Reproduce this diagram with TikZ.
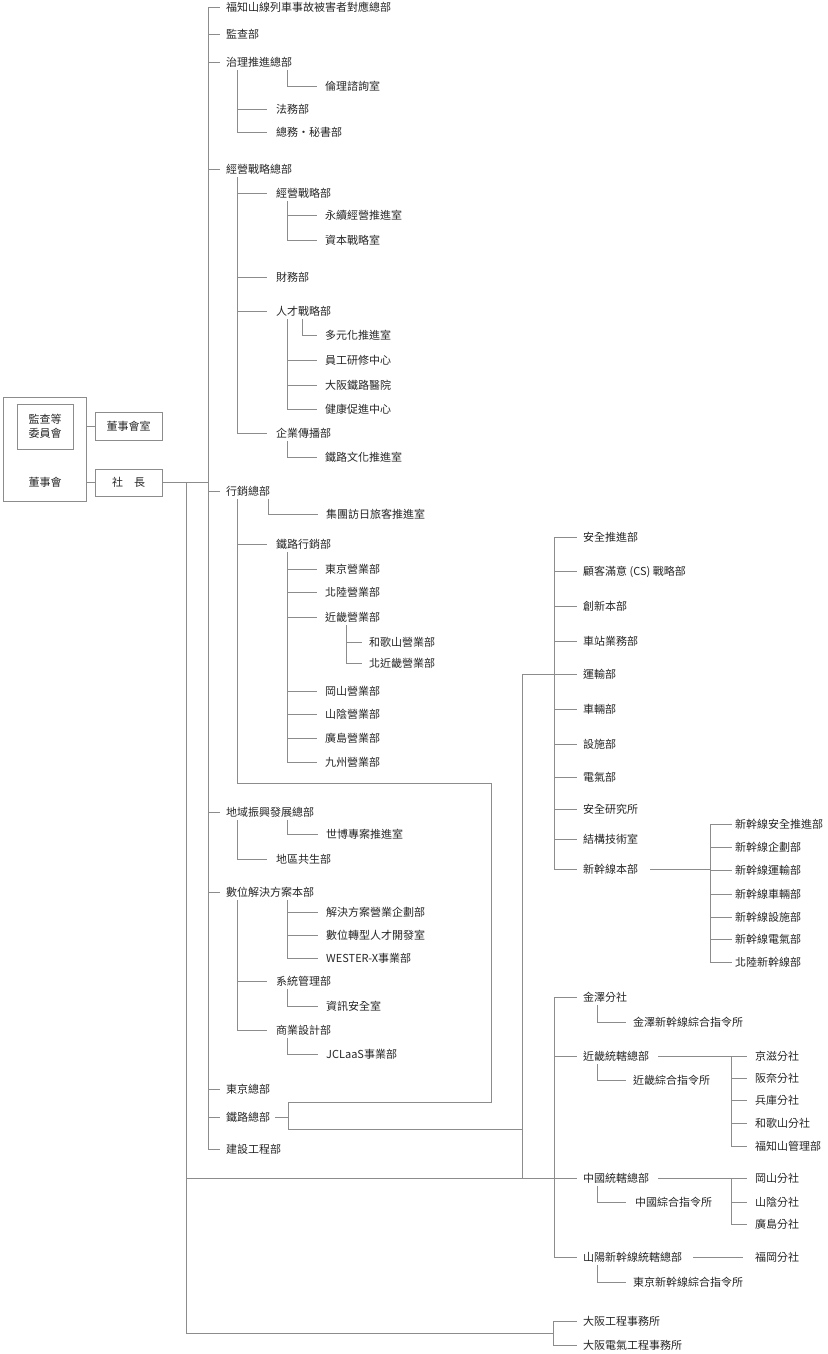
\documentclass[tikz,border=0pt]{standalone}
\usepackage{fontspec}
\newfontfamily\cjk{Noto Sans CJK TC}
\definecolor{lc}{HTML}{8C8C8C}
\definecolor{tc}{HTML}{262626}
\newcommand\brn[4]{\draw[ln] ([xshift=#2pt,yshift=-3pt]#1.south west) |- ([xshift=-#4pt]#3.west);}
\begin{document}
\begin{tikzpicture}[x=1pt,y=-1pt,
 t/.style={anchor=west,inner sep=0pt,text height=9.5pt,text depth=1pt,font=\cjk\fontsize{11}{13}\selectfont,text=tc},
 ln/.style={draw=lc,line width=0.8pt},
 box/.style={draw=lc,line width=0.8pt,inner sep=0pt,font=\cjk\fontsize{11}{14}\selectfont,text=tc,align=center}]
\useasboundingbox (0,0) rectangle (827,1354);
% ---- left boxes
\node[box,minimum width=83pt,minimum height=104pt] (board) at (44.5,449) {};
\node[box,minimum width=56pt,minimum height=45pt] (audit) at (45,426.5) {監查等\\委員會};
\node[t,anchor=center] (boardt) at (45,482) {董事會};
\node[box,minimum width=67pt,minimum height=28pt] (room) at (128.5,426) {董事會室};
\node[box,minimum width=67pt,minimum height=27pt] (pres) at (128.5,482.5) {社　長};
\draw[ln] (board.east |- room.west) -- (room.west);
\draw[ln] (board.east |- pres.west) -- (pres.west);
% ---- coordinates
\coordinate (sp) at (208,0);
\coordinate (c186) at (186,0);
\coordinate (c522) at (522,0);
\coordinate (rs) at (554,0);
\coordinate (ss) at (710,0);
\coordinate (kx) at (731,0);
\coordinate (ob) at (553,1333);
\coordinate (k1) at (288,1102);
\coordinate (k2) at (288,1129);
\coordinate (k3) at (491,783);
% ---- main column
\node[t] (m1) at (226,7) {福知山線列車事故被害者對應總部};
\node[t] (m2) at (226,34) {監查部};
\node[t] (m3) at (226,62) {治理推進總部};
\node[t] (m4) at (226,169) {經營戰略總部};
\node[t] (m5) at (226,491) {行銷總部};
\node[t] (m6) at (226,812) {地域振興發展總部};
\node[t] (m7) at (226,892) {數位解決方案本部};
\node[t] (m8) at (226,1089) {東京總部};
\node[t] (m9) at (226,1117) {鐵路總部};
\node[t] (m10) at (226,1149) {建設工程部};
\draw[ln] (sp |- m1.west) -- (sp |- m10.west);
\foreach \n in {m1,m2,m3,m4,m5,m6,m7,m8,m9,m10} {\draw[ln] (sp |- \n.west) -- ([xshift=-6pt]\n.west);}
\draw[ln] (pres.east) -- (sp |- pres.east);
% ---- under 治理推進總部
\node[t] (a1) at (325,86) {倫理諮詢室};
\node[t] (a2) at (276,109) {法務部};
\node[t] (a3) at (276,132) {總務・秘書部};
\brn{m3}{61}{a1}{8}
\brn{m3}{11}{a2}{9}
\brn{m3}{11}{a3}{9}
% ---- under 經營戰略總部
\node[t] (b1) at (276,193) {經營戰略部};
\node[t] (b11) at (325,215) {永續經營推進室};
\node[t] (b12) at (325,240) {資本戰略室};
\node[t] (b2) at (276,277) {財務部};
\node[t] (b3) at (276,311) {人才戰略部};
\node[t] (b31) at (325,335) {多元化推進室};
\node[t] (b32) at (325,360) {員工研修中心};
\node[t] (b33) at (325,385) {大阪鐵路醫院};
\node[t] (b34) at (325,409) {健康促進中心};
\node[t] (b4) at (276,433) {企業傳播部};
\node[t] (b41) at (325,457) {鐵路文化推進室};
\foreach \c in {b1,b2,b3,b4} {\brn{m4}{11}{\c}{9}}
\brn{b1}{11}{b11}{8}
\brn{b1}{11}{b12}{8}
\brn{b3}{26}{b31}{8}
\foreach \c in {b32,b33,b34} {\brn{b3}{11}{\c}{8}}
\brn{b4}{11}{b41}{8}
% ---- under 行銷總部
\node[t] (c1) at (326,514) {集團訪日旅客推進室};
\node[t] (c2) at (276,544) {鐵路行銷部};
\node[t] (c21) at (325,569) {東京營業部};
\node[t] (c22) at (325,592) {北陸營業部};
\node[t] (c23) at (325,617) {近畿營業部};
\node[t] (c231) at (369,642) {和歌山營業部};
\node[t] (c232) at (369,663) {北近畿營業部};
\node[t] (c24) at (325,691) {岡山營業部};
\node[t] (c25) at (325,714) {山陰營業部};
\node[t] (c26) at (325,738) {廣島營業部};
\node[t] (c27) at (325,762) {九州營業部};
\brn{m5}{42}{c1}{8}
\draw[ln] ([xshift=11pt,yshift=-3pt]m5.south west) |- (k3) -- (k3 |- k1) -- (k1) -- (k2) -- (c522 |- k2);
\draw[ln] ([xshift=11pt]m5.west |- c2.west) -- ([xshift=-9pt]c2.west);
\foreach \c in {c21,c22,c23,c24,c25,c26,c27} {\brn{c2}{11}{\c}{8}}
\brn{c23}{21}{c231}{7}
\brn{c23}{21}{c232}{7}
\draw[ln] ([xshift=5pt]m9.east) -- (k1 |- m9.east);
% ---- under 地域振興發展總部
\node[t] (d1) at (326,834) {世博專案推進室};
\node[t] (d2) at (276,859) {地區共生部};
\brn{m6}{61}{d1}{8}
\brn{m6}{11}{d2}{9}
% ---- under 數位解決方案本部
\node[t] (e1) at (326,912) {解決方案營業企劃部};
\node[t] (e2) at (326,935) {數位轉型人才開發室};
\node[t] (e3) at (326,958) {WESTER-X事業部};
\node[t] (e4) at (276,981) {系統管理部};
\node[t] (e41) at (326,1006) {資訊安全室};
\node[t] (e5) at (276,1030) {商業設計部};
\node[t] (e51) at (326,1054) {JCLaaS事業部};
\foreach \c in {e1,e2,e3} {\brn{m7}{61}{\c}{8}}
\brn{m7}{11}{e4}{9}
\brn{m7}{11}{e5}{9}
\brn{e4}{11}{e41}{8}
\brn{e5}{11}{e51}{8}
% ---- right upper
\node[t] (r1) at (583,537) {安全推進部};
\node[t] (r2) at (583,571) {顧客滿意 (CS) 戰略部};
\node[t] (r3) at (583,606) {創新本部};
\node[t] (r4) at (583,641) {車站業務部};
\node[t] (r5) at (583,674) {運輸部};
\node[t] (r6) at (583,709) {車輛部};
\node[t] (r7) at (583,744) {設施部};
\node[t] (r8) at (583,777) {電氣部};
\node[t] (r9) at (583,809) {安全研究所};
\node[t] (r10) at (583,839) {結構技術室};
\node[t] (r11) at (583,869) {新幹線本部};
\draw[ln] (rs |- r1.west) -- (rs |- r11.west);
\foreach \n in {r1,r2,r3,r4,r5,r6,r7,r8,r9,r10,r11} {\draw[ln] (rs |- \n.west) -- ([xshift=-6pt]\n.west);}
% ---- shinkansen
\node[t] (s1) at (735,824) {新幹線安全推進部};
\node[t] (s2) at (735,847) {新幹線企劃部};
\node[t] (s3) at (735,870) {新幹線運輸部};
\node[t] (s4) at (735,894) {新幹線車輛部};
\node[t] (s5) at (735,917) {新幹線設施部};
\node[t] (s6) at (735,939) {新幹線電氣部};
\node[t] (s7) at (735,962) {北陸新幹線部};
\draw[ln] ([xshift=12pt]r11.east) -- (ss |- r11.east);
\draw[ln] (ss |- s1.west) -- (ss |- s7.west);
\foreach \n in {s1,s2,s3,s4,s5,s6,s7} {\draw[ln] (ss |- \n.west) -- ([xshift=-3pt]\n.west);}
% ---- right lower
\node[t] (g1) at (583,997) {金澤分社};
\node[t] (g11) at (633,1022) {金澤新幹線綜合指令所};
\node[t] (g2) at (583,1056) {近畿統轄總部};
\node[t] (g21) at (633,1080) {近畿綜合指令所};
\node[t] (g3) at (583,1178) {中國統轄總部};
\node[t] (g31) at (635,1202) {中國綜合指令所};
\node[t] (g4) at (583,1257) {山陽新幹線統轄總部};
\node[t] (g41) at (633,1282) {東京新幹線綜合指令所};
\draw[ln] (rs |- g1.west) -- (rs |- g4.west);
\foreach \n in {g1,g2,g3,g4} {\draw[ln] (rs |- \n.west) -- ([xshift=-6pt]\n.west);}
\brn{g1}{14}{g11}{7}
\brn{g2}{14}{g21}{7}
\brn{g3}{14}{g31}{9}
\brn{g4}{14}{g41}{7}
% ---- branches
\node[t] (kk1) at (755,1056) {京滋分社};
\node[t] (kk2) at (755,1078) {阪奈分社};
\node[t] (kk3) at (755,1100) {兵庫分社};
\node[t] (kk4) at (755,1123) {和歌山分社};
\node[t] (kk5) at (755,1146) {福知山管理部};
\draw[ln] ([xshift=9pt]g2.east) -- (kx |- g2.east);
\draw[ln] (kx |- kk1.west) -- (kx |- kk5.west);
\foreach \n in {kk1,kk2,kk3,kk4,kk5} {\draw[ln] (kx |- \n.west) -- ([xshift=-8pt]\n.west);}
\node[t] (h1) at (755,1178) {岡山分社};
\node[t] (h2) at (755,1202) {山陰分社};
\node[t] (h3) at (755,1224) {廣島分社};
\draw[ln] ([xshift=9pt]g3.east) -- (kx |- g3.east);
\draw[ln] (kx |- h1.west) -- (kx |- h3.west);
\foreach \n in {h1,h2,h3} {\draw[ln] (kx |- \n.west) -- ([xshift=-8pt]\n.west);}
\node[t] (f1) at (755,1257) {福岡分社};
\draw[ln] ([xshift=11pt]g4.east) -- ([xshift=-12pt]f1.west);
% ---- 運輸部 link and president lines
\draw[ln] (c522 |- g3.west) -- (c522 |- r5.west) -- (rs |- r5.west);
\draw[ln] (c186 |- g3.west) -- (rs |- g3.west);
\draw[ln] (c186 |- pres.east) -- (c186 |- ob) -- (ob);
% ---- bottom
\node[t] (o1) at (583,1321) {大阪工程事務所};
\node[t] (o2) at (583,1345) {大阪電氣工程事務所};
\draw[ln] (ob |- o1.west) -- (ob |- o2.west);
\foreach \n in {o1,o2} {\draw[ln] (ob |- \n.west) -- ([xshift=-6pt]\n.west);}
\end{tikzpicture}
\end{document}
